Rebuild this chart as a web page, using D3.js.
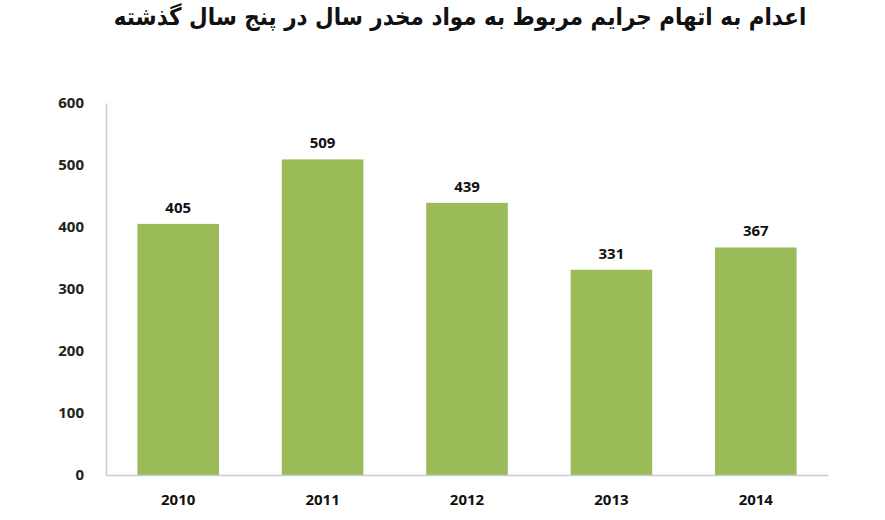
<!doctype html>
<head>
  <meta charset="utf-8">
  <script src="https://cdnjs.cloudflare.com/ajax/libs/d3/7.8.2/d3.min.js"></script>
</head>
<style>
    body { margin: 0; background: #ffffff; }
    text { font-family: "Open Sans", "Liberation Sans", sans-serif; }
</style>
<body>
    <div id="chart"></div>
    <script>
        // Datos
        const years = ["2010", "2011", "2012", "2013", "2014"];
        const executions = [405, 509, 439, 331, 367];
        const yTicks = [0, 100, 200, 300, 400, 500, 600];
        const title = "اعدام به اتهام جرایم مربوط به مواد مخدر سال در پنج سال گذشته";

        const width = 885, height = 520;
        const margin = {top: 103, right: 57, bottom: 45, left: 106};

        const svg = d3.select('#chart')
            .append('svg')
            .attr('width', width)
            .attr('height', height);

        // Escalas
        const x = d3.scaleBand()
            .domain(years)
            .range([margin.left, width - margin.right])
            .paddingInner(0.435)
            .paddingOuter(0.2175);

        const y = d3.scaleLinear()
            .domain([0, 600])
            .range([height - margin.bottom, margin.top]);

        // Título (un poco más alto que ancho, como en el original)
        svg.append('text')
            .attr('transform', 'translate(460,25) scale(1,1.12)')
            .attr('text-anchor', 'middle')
            .attr('direction', 'rtl')
            .style('font-family', '"DejaVu Sans", sans-serif')
            .style('font-weight', 'bold')
            .style('font-size', '21.5px')
            .attr('fill', '#111')
            .text(title);

        // Eje Y
        const yAxis = d3.axisLeft(y).tickValues(yTicks).tickSize(0).tickPadding(22);
        const gy = svg.append('g')
            .attr('transform', `translate(${margin.left},0)`)
            .call(yAxis);
        gy.select('.domain').attr('stroke', '#c8ccd4').attr('stroke-width', 1.5);
        gy.selectAll('text')
            .attr('fill', '#222')
            .style('font-size', '15px')
            .style('font-weight', 'bold');

        // Barras
        const data = years.map((yr, i) => ({year: yr, value: executions[i]}));
        svg.selectAll('.bar')
            .data(data)
            .enter()
            .append('rect')
            .attr('class', 'bar')
            .attr('x', (d) => x(d.year))
            .attr('width', x.bandwidth())
            .attr('y', (d) => y(d.value))
            .attr('height', (d) => y(0) - y(d.value))
            .attr('fill', '#9bbb59');

        // Etiquetas de valores
        svg.selectAll('.label')
            .data(data)
            .enter()
            .append('text')
            .attr('class', 'label')
            .attr('x', (d) => x(d.year) + x.bandwidth() / 2)
            .attr('y', (d) => y(d.value) - 11)
            .attr('text-anchor', 'middle')
            .attr('fill', '#111')
            .style('font-size', '15px')
            .style('font-weight', 'bold')
            .text((d) => d.value);

        // Eje X
        const xAxis = d3.axisBottom(x).tickSize(0).tickPadding(19);
        const gx = svg.append('g')
            .attr('transform', `translate(0,${y(0)})`)
            .call(xAxis);
        gx.select('.domain').attr('stroke', '#c8ccd4').attr('stroke-width', 1.5);
        gx.selectAll('text')
            .attr('fill', '#111')
            .style('font-size', '15px')
            .style('font-weight', 'bold');
    </script>
</body>
